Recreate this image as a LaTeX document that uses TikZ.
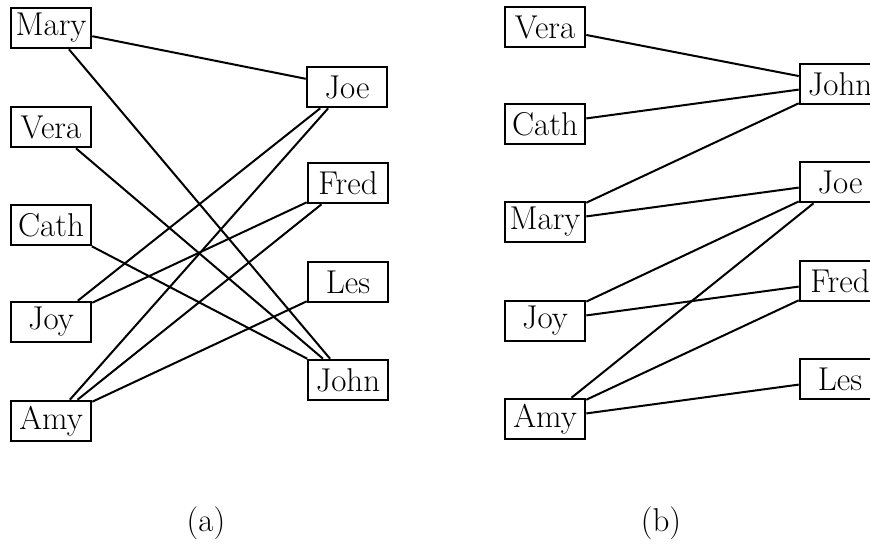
\documentclass[tikz,border=0pt]{standalone}
\usepackage{xcolor}
\usetikzlibrary{positioning}

\tikzset{person/.style={draw=black, line width=1.3pt, rectangle, minimum width=40pt, minimum height=20pt, inner sep=1.5pt, font=\fontsize{16.5}{19}\selectfont},
    link/.style={black, line width=1pt}}

\begin{document}
\begin{tikzpicture}[x=0.5pt, y=-0.5pt]
    \useasboundingbox (0,0) rectangle (870,553);
    \clip (0,0) rectangle (870,553);
    % (a)
    \node[person] (aMary) at (51,28) {Mary};
    \node[person] (aVera) at (51,127) {Vera};
    \node[person] (aCath) at (51,225) {Cath};
    \node[person] (aJoy) at (51,322) {Joy};
    \node[person] (aAmy) at (51,421) {Amy};
    \node[person] (aJoe) at (347,87) {Joe};
    \node[person] (aFred) at (348,183) {Fred};
    \node[person] (aLes) at (348,282) {Les};
    \node[person] (aJohn) at (348,380) {John};
    \draw[link] (aMary) -- (aJoe);
    \draw[link] (aMary) -- (aJohn);
    \draw[link] (aVera) -- (aJohn);
    \draw[link] (aCath) -- (aJohn);
    \draw[link] (aJoy) -- (aJoe);
    \draw[link] (aJoy) -- (aFred);
    \draw[link] (aAmy) -- (aJoe);
    \draw[link] (aAmy) -- (aFred);
    \draw[link] (aAmy) -- (aLes);
    \node[font=\fontsize{16.5}{19}\selectfont] (capa) at (206,523) {(a)};
    % (b)
    \node[person] (bVera) at (545,27) {Vera};
    \node[person] (bCath) at (545,124) {Cath};
    \node[person] (bMary) at (545,222) {Mary};
    \node[person] (bJoy) at (545,321) {Joy};
    \node[person] (bAmy) at (545,419) {Amy};
    \node[person] (bJohn) at (840,84) {John};
    \node[person] (bJoe) at (840,182) {Joe};
    \node[person] (bFred) at (840,281) {Fred};
    \node[person] (bLes) at (840,379) {Les};
    \draw[link] (bVera) -- (bJohn);
    \draw[link] (bCath) -- (bJohn);
    \draw[link] (bMary) -- (bJohn);
    \draw[link] (bMary) -- (bJoe);
    \draw[link] (bJoy) -- (bJoe);
    \draw[link] (bJoy) -- (bFred);
    \draw[link] (bAmy) -- (bJoe);
    \draw[link] (bAmy) -- (bFred);
    \draw[link] (bAmy) -- (bLes);
    \node[font=\fontsize{16.5}{19}\selectfont] (capb) at (661,523) {(b)};
\end{tikzpicture}
\end{document}
